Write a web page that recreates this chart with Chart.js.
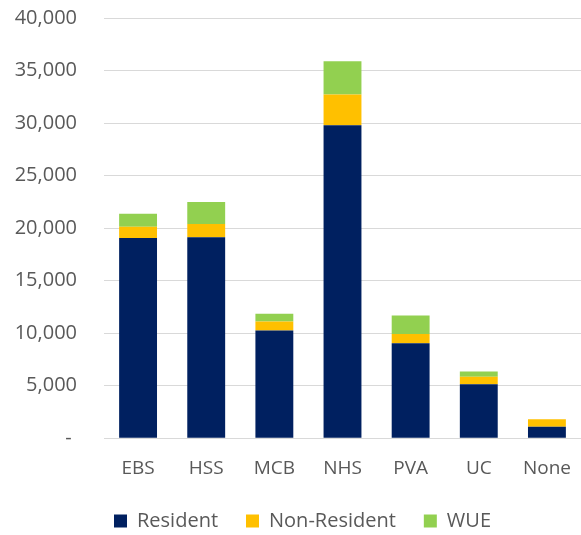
<!DOCTYPE html>
<html>
<head>
<meta charset="utf-8">
<script src="https://cdn.jsdelivr.net/npm/chart.js@4.4.1/dist/chart.umd.min.js"></script>
<style>
  html, body { margin: 0; padding: 0; background: #ffffff; }
  #wrap { width: 581px; height: 535px; position: relative; }
</style>
</head>
<body>
<div id="wrap"><canvas id="c" width="581" height="535"></canvas></div>
<script>
const categories = ["EBS", "HSS", "MCB", "NHS", "PVA", "UC", "None"];
const resident = [19050, 19140, 10250, 29800, 9050, 5140, 1080];
const nonResident = [1070, 1240, 860, 2920, 860, 700, 730];
const wue = [1240, 2100, 740, 3170, 1770, 500, 0];
const yTicks = [0, 5000, 10000, 15000, 20000, 25000, 30000, 35000, 40000];

const FONT = "'Open Sans', sans-serif";
const TEXT = "#595959";

const shiftLegend = {
  id: 'shiftLegend',
  afterLayout(chart) {
    if (chart.legend) { chart.legend.left += 12; chart.legend.right += 12; }
  }
};

new Chart(document.getElementById('c'), {
  type: 'bar',
  data: {
    labels: categories,
    datasets: [
      { label: 'Resident', data: resident, backgroundColor: '#002060' },
      { label: 'Non-Resident', data: nonResident, backgroundColor: '#FFC000' },
      { label: 'WUE', data: wue, backgroundColor: '#92D050' }
    ]
  },
  plugins: [shiftLegend],
  options: {
    responsive: false,
    animation: false,
    devicePixelRatio: 1,
    datasets: { bar: { barPercentage: 0.556, categoryPercentage: 1.0 } },
    layout: { padding: { top: 18, right: 0, bottom: -6, left: 0 } },
    plugins: {
      legend: {
        position: 'bottom',
        labels: {
          font: { family: FONT, size: 20 },
          color: TEXT,
          boxWidth: 13,
          boxHeight: 13,
          padding: 28
        }
      },
      tooltip: { enabled: false }
    },
    scales: {
      x: {
        stacked: true,
        grid: { display: false, drawTicks: true, tickLength: 19, tickColor: 'rgba(0,0,0,0)' },
        border: { display: true, color: '#d9d9d9', width: 1 },
        afterFit: (axis) => { axis.height += 3; },
        ticks: { font: { family: FONT, size: 19 }, color: TEXT, padding: 0 }
      },
      y: {
        stacked: true,
        min: 0,
        max: 40000,
        afterBuildTicks: (axis) => { axis.ticks = yTicks.map(v => ({ value: v })); },
        afterFit: (axis) => { axis.width = 104; },
        grid: { color: '#d9d9d9', lineWidth: 1, drawTicks: true, tickLength: 27, tickColor: 'rgba(0,0,0,0)' },
        border: { display: false },
        ticks: {
          font: { family: FONT, size: 20 },
          color: TEXT,
          padding: 0,
          callback: (v) => v === 0 ? '- ' : v.toLocaleString('en-US')
        }
      }
    }
  }
});
</script>
</body>
</html>
